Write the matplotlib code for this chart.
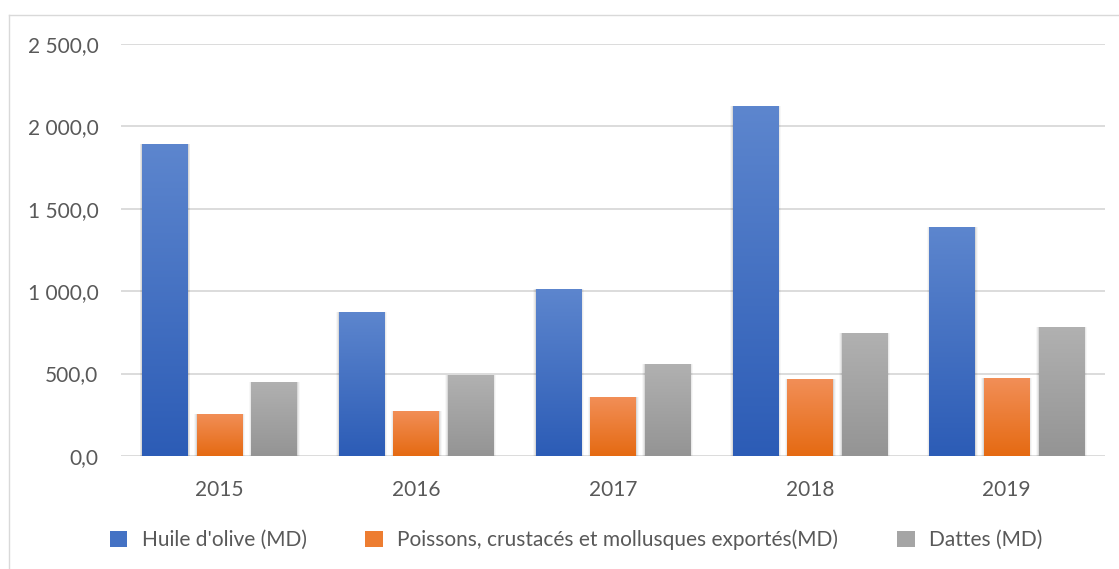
import numpy as np
import matplotlib
matplotlib.use("Agg")
import matplotlib.pyplot as plt
from matplotlib.patches import Rectangle, Patch
from matplotlib.colors import LinearSegmentedColormap
from matplotlib.lines import Line2D

plt.rcParams['font.family'] = ['Lato', 'DejaVu Sans']

years = ["2015", "2016", "2017", "2018", "2019"]
series_names = ["Huile d'olive (MD)",
                "Poissons, crustacés et mollusques exportés(MD)",
                "Dattes (MD)"]
huile = [1892, 874, 1013, 2122, 1390]
poissons = [255, 273, 358, 467, 473]
dattes = [449, 491, 558, 746, 783]
yticks = [0, 500, 1000, 1500, 2000, 2500]
ytick_labels = ["0,0", "500,0", "1 000,0", "1 500,0", "2 000,0", "2 500,0"]

# gradient (top, bottom) colors
grads = [("#5D86CE", "#2C5CB6"), ("#F28F58", "#E56A12"), ("#B1B1B1", "#949494")]
mids = ["#4472C4", "#ED7D31", "#A5A5A5"]

W, H = 1119, 569
fig = plt.figure(figsize=(W/100, H/100), dpi=100)
ax = fig.add_axes([120.7/W, 1-456/H, (1105-120.7)/W, (456-43.7)/H])

ax.set_xlim(-0.5, 4.5)
ax.set_ylim(0, 2500)
for s in ax.spines.values():
    s.set_visible(False)
ax.set_yticks(yticks)
ax.set_yticklabels(ytick_labels)
ax.set_xticks(range(len(years)))
ax.set_xticklabels(years)
ax.tick_params(axis='both', length=0, labelsize=15, colors="#595959")
ax.tick_params(axis='y', pad=16)
ax.tick_params(axis='x', pad=17)
for t in yticks:
    ax.axhline(t, color="#D9D9D9", lw=1.3, zorder=0)

bw = 0.229
step = 0.277
data = [huile, poissons, dattes]
x = np.arange(len(years))
for si, vals in enumerate(data):
    cmap = LinearSegmentedColormap.from_list("g", [grads[si][1], grads[si][0]])
    for i, v in enumerate(vals):
        x0 = x[i] + (si - 1) * step - bw / 2
        # soft shadow at the sides
        for k, a in enumerate([0.07, 0.05, 0.03]):
            d = 0.005 * (k + 1)
            ax.add_patch(Rectangle((x0 - d + 0.002, 0), bw + 2 * d, v,
                                   facecolor="black", edgecolor="none", alpha=a, zorder=1))
        rect = Rectangle((x0, 0), bw, v, facecolor="none", edgecolor="none", zorder=2)
        ax.add_patch(rect)
        grad = np.linspace(0, 1, 256).reshape(-1, 1)
        im = ax.imshow(grad, cmap=cmap, aspect='auto', origin='lower',
                       extent=(x0, x0 + bw, 0, v), zorder=2, interpolation='bilinear')
        im.set_clip_path(rect)

ax.set_xlim(-0.5, 4.5)
ax.set_ylim(0, 2500)

handles = [Patch(facecolor=mids[i], edgecolor="none") for i in range(3)]
leg = fig.legend(handles, series_names, loc="center", bbox_to_anchor=(576/W, 1-540/H),
                 ncol=3, frameon=False, fontsize=15, handlelength=0.85, handleheight=0.85,
                 handletextpad=0.7, columnspacing=2.8, labelcolor="#595959")

# chart frame
fig.add_artist(Line2D([9/W, 9/W], [0, 1-15/H], transform=fig.transFigure, color="#D9D9D9", lw=1))
fig.add_artist(Line2D([9/W, 1], [1-15/H, 1-15/H], transform=fig.transFigure, color="#D9D9D9", lw=1))

fig.savefig("out.png", dpi=100, facecolor="white")
